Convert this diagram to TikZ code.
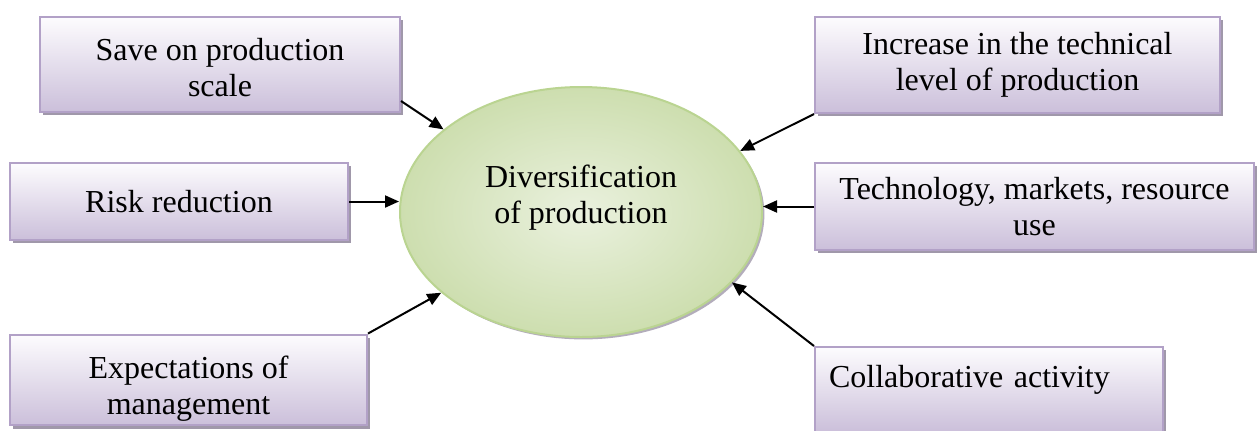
\documentclass[tikz,border=0pt]{standalone}
\usepackage{fontspec}
\setmainfont{Liberation Serif}
\usetikzlibrary{positioning,arrows.meta,shapes.geometric,shadows}
\definecolor{boxtop}{RGB}{253,252,254}
\definecolor{boxbot}{RGB}{203,191,218}
\definecolor{boxline}{RGB}{178,161,199}
\definecolor{boxshade}{RGB}{160,152,170}
\definecolor{ellin}{RGB}{234,241,222}
\definecolor{ellout}{RGB}{205,222,175}
\definecolor{ellline}{RGB}{186,212,145}

\begin{document}
\begin{tikzpicture}[
  x=0.5pt, y=-0.5pt,
  font=\fontsize{16}{18}\selectfont,
  box/.style={draw=boxline, line width=1pt, align=center, inner sep=2pt,
    top color=boxtop, bottom color=boxbot,
    drop shadow={shadow xshift=1.6pt, shadow yshift=-1.6pt, fill=boxshade, opacity=1}},
  core/.style={ellipse, draw=ellline, line width=1pt, inner color=ellin, outer color=ellout,
    drop shadow={shadow xshift=1.2pt, shadow yshift=-1.2pt, fill=boxshade, opacity=.8}},
  arr/.style={-{Triangle[length=7pt,width=6pt]}, black, line width=1pt},
]
\useasboundingbox (0,0) rectangle (1258,430);
% ---- centre ----
\node[core, minimum width=181pt, minimum height=125pt,
  label={[align=center, yshift=7pt]center:Diversification\\ of production}] (div) at (581,212) {};
% ---- left factors ----
\node[box, minimum width=180pt, minimum height=47.5pt] (save) at (220,64.5) {\rule{0pt}{14pt}Save on production\\ scale};
\node[box, minimum width=169pt, minimum height=38.5pt] (risk) at (179,201.5) {Risk reduction};
\node[box, minimum width=178.5pt, minimum height=45pt] (expect) at (188.5,380) {\rule{0pt}{20pt}Expectations of\\ management};
% ---- right factors ----
\node[box, minimum width=202.5pt, minimum height=48pt] (tlevel) at (1017.5,65) {Increase in the technical\\ level of production};
\node[box, minimum width=219.5pt, minimum height=43.5pt] (tech) at (1034.5,206.5) {Technology, markets, resource\\ use};
\node[box, minimum width=174pt, minimum height=42.5pt, align=left, text width=160pt] (collab) at (989,389.5) {Collaborative activity\\[-10pt] \strut};
% ---- arrows ----
\draw[arr] ([yshift=6pt]save.south east) -- (div.149);
\draw[arr] (risk.east) -- (risk.east -| div.west);
\draw[arr] (expect.north east) -- (div.210);
\draw[arr] (tlevel.south west) -- (div.21);
\draw[arr] (tech.west) -- (tech.west -| div.east);
\draw[arr] (collab.north west) -- (div.335);
\end{tikzpicture}
\end{document}
